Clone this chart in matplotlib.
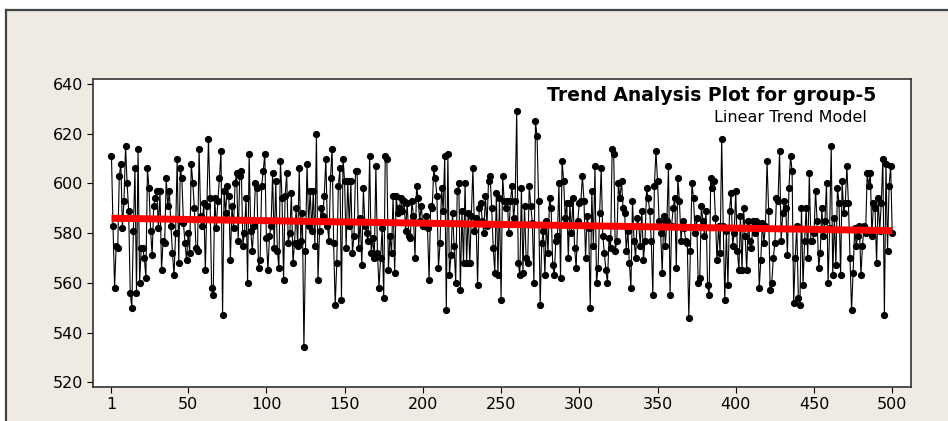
import numpy as np
import matplotlib.pyplot as plt
from matplotlib.lines import Line2D

# group-5 observations, in order
values = [
    611, 583, 558, 575, 574, 603, 608, 582, 593, 615, 600, 589, 556, 550, 581, 606, 556, 614, 560, 574,
    574, 570, 562, 606, 598, 581, 571, 591, 594, 597, 582, 597, 565, 577, 576, 602, 591, 597, 583, 572,
    563, 580, 610, 568, 606, 602, 584, 576, 569, 580, 572, 608, 600, 590, 574, 573, 614, 587, 583, 592,
    565, 591, 618, 594, 558, 555, 594, 582, 593, 602, 613, 547, 597, 588, 599, 595, 569, 591, 582, 600,
    604, 577, 603, 605, 575, 580, 594, 560, 612, 581, 573, 583, 600, 598, 566, 569, 599, 605, 612, 578,
    565, 579, 583, 604, 574, 601, 573, 566, 609, 594, 561, 595, 604, 576, 580, 596, 568, 576, 590, 575,
    606, 577, 588, 534, 573, 608, 583, 597, 581, 597, 575, 620, 561, 581, 590, 587, 595, 610, 583, 577,
    602, 614, 576, 551, 568, 599, 606, 553, 610, 601, 574, 601, 583, 601, 572, 579, 605, 605, 574, 586,
    567, 598, 583, 580, 577, 611, 572, 578, 570, 607, 572, 558, 570, 582, 554, 611, 610, 565, 579, 572,
    595, 564, 595, 588, 590, 594, 589, 593, 581, 592, 579, 578, 593, 587, 570, 599, 594, 585, 591, 583,
    583, 587, 582, 561, 591, 590, 606, 602, 595, 566, 576, 598, 589, 611, 549, 612, 563, 571, 588, 575,
    560, 597, 600, 557, 589, 568, 600, 568, 588, 568, 587, 606, 581, 586, 559, 590, 592, 585, 580, 595,
    583, 601, 603, 590, 574, 564, 596, 563, 594, 553, 603, 593, 590, 593, 580, 593, 599, 586, 593, 629,
    568, 563, 598, 564, 591, 570, 568, 599, 591, 584, 560, 625, 619, 593, 551, 576, 581, 563, 585, 572,
    594, 590, 567, 563, 577, 579, 600, 562, 609, 601, 586, 592, 570, 592, 580, 594, 574, 566, 585, 592,
    593, 603, 593, 570, 587, 582, 550, 597, 575, 607, 560, 566, 588, 606, 579, 572, 565, 560, 578, 574,
    614, 612, 573, 577, 600, 594, 601, 590, 588, 573, 581, 568, 558, 593, 577, 570, 586, 583, 575, 589,
    569, 577, 598, 594, 589, 577, 555, 599, 613, 601, 585, 580, 564, 587, 575, 585, 607, 555, 583, 590,
    594, 566, 602, 593, 577, 585, 582, 577, 576, 546, 573, 600, 594, 580, 586, 560, 562, 591, 585, 579,
    589, 559, 555, 602, 598, 601, 586, 569, 583, 572, 618, 583, 553, 581, 559, 589, 596, 575, 580, 597,
    573, 565, 587, 565, 590, 579, 565, 585, 577, 574, 585, 580, 585, 584, 558, 569, 584, 576, 583, 609,
    589, 557, 560, 570, 576, 594, 593, 613, 577, 588, 593, 590, 571, 598, 611, 605, 552, 570, 583, 554,
    551, 590, 559, 577, 590, 570, 604, 577, 577, 580, 597, 585, 566, 572, 590, 579, 585, 600, 560, 582,
    615, 563, 586, 567, 598, 592, 563, 601, 588, 592, 607, 592, 570, 549, 564, 582, 575, 579, 583, 563,
    575, 583, 580, 604, 599, 604, 579, 592, 590, 568, 594, 581, 592, 610, 547, 608, 573, 599, 607, 580,
]
t = np.arange(1, len(values) + 1)

# linear trend model Yt = b0 + b1*t
trend_b0 = 586.0
trend_b1 = -0.0100

x_ticks = [1, 50, 100, 150, 200, 250, 300, 350, 400, 450, 500]
y_ticks = [520, 540, 560, 580, 600, 620, 640]

bg = '#efebe2'
fig = plt.figure(figsize=(9.48, 4.21), dpi=100)
fig.patch.set_facecolor('white')

# beige panel with a dark frame along the top and left
panel = fig.add_axes([0, 0, 1, 1], zorder=-1)
panel.set_xlim(0, 948)
panel.set_ylim(421, 0)
panel.axis('off')
panel.fill_between([6, 948], 10, 421, color=bg, lw=0)
panel.add_line(Line2D([6, 948], [10, 10], color='#444444', lw=1.6))
panel.add_line(Line2D([6, 6], [10, 421], color='#444444', lw=1.6))

ax = fig.add_axes([93 / 948, 1 - 387 / 421, (911 - 93) / 948, (387 - 79) / 421])
ax.set_facecolor('white')

ax.plot(t, values, color='black', lw=0.8, marker='o', markersize=4.2,
        markerfacecolor='black', markeredgecolor='black', zorder=2)
ax.plot(t, trend_b0 + trend_b1 * t, color='#ff0000', lw=5, zorder=3,
        solid_capstyle='butt')

ax.set_xlim(-10.8, 512)
ax.set_ylim(518.1, 642)
ax.set_xticks(x_ticks)
ax.set_yticks(y_ticks)
ax.tick_params(direction='out', length=4, width=0.8, labelsize=11.5,
               colors='black', pad=3)
for s in ax.spines.values():
    s.set_color('#333333')
    s.set_linewidth(1.2)

ax.text(0.958, 0.978, 'Trend Analysis Plot for group-5', transform=ax.transAxes,
        ha='right', va='top', fontsize=13.5, fontweight='bold')
ax.text(0.946, 0.9, 'Linear Trend Model', transform=ax.transAxes,
        ha='right', va='top', fontsize=11.5)

plt.savefig('out.png', dpi=100, facecolor=fig.get_facecolor())
